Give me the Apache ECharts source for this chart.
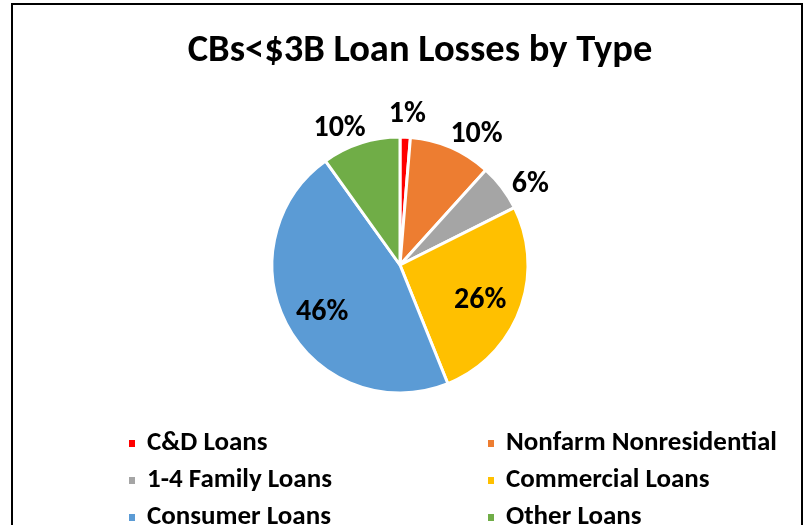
<!DOCTYPE html>
<html>
<head>
<meta charset="utf-8">
<script src="https://cdn.jsdelivr.net/npm/echarts@6/dist/echarts.min.js"></script>
<style>
html,body{margin:0;padding:0;background:#fff;}
#frame{position:absolute;left:11px;top:3px;width:792px;height:560px;border:2px solid #000;box-sizing:border-box;}
#chart{position:absolute;left:0;top:0;width:808px;height:525px;}
</style>
</head>
<body>
<div id="frame"></div>
<div id="chart"></div>
<script>
const titleText = 'CBs<$3B Loan Losses by Type';
const categories = ['C&D Loans', 'Nonfarm Nonresidential', '1-4 Family Loans', 'Commercial Loans', 'Consumer Loans', 'Other Loans'];
const values = [1.3, 10.4, 5.9, 26.3, 46.2, 9.9];
const colors = ['#FF0000', '#ED7D31', '#A5A5A5', '#FFC000', '#5B9BD5', '#70AD47'];
const insideLabels = ['Commercial Loans', 'Consumer Loans'];

const FONT = 'Carlito, "Liberation Sans Narrow", "DejaVu Sans Condensed", "Liberation Sans", sans-serif';
const total = values.reduce((a, b) => a + b, 0);
const pctText = v => Math.round(v / total * 100) + '%';
// small label nudges (px) imitating Excel's best-fit placement
const labelNudge = {
  'C&D Loans': [1, 4],
  'Nonfarm Nonresidential': [15, 12],
  '1-4 Family Loans': [7, 13],
  'Commercial Loans': [-5, 3],
  'Consumer Loans': [2, 4],
  'Other Loans': [-13, 11]
};

const chart = echarts.init(document.getElementById('chart'), null, {renderer: 'canvas'});

const mainData = categories.map((c, i) => ({name: c, value: values[i], itemStyle: {color: colors[i]}}));
const labelStyle = {color: '#000', fontFamily: FONT, fontWeight: 'bold', fontSize: 30};

function helperData(show) {
  return categories.map((c, i) => ({
    name: c, value: values[i],
    itemStyle: {color: 'rgba(0,0,0,0)', borderWidth: 0},
    label: {show: show(c), offset: labelNudge[c] || [0, 0]}
  }));
}

const legendText = {fontFamily: FONT, fontWeight: 'bold', fontSize: 27, lineHeight: 26, color: '#000', padding: [0, 0, 0, 6]};

chart.setOption({
  animation: false,
  backgroundColor: 'transparent',
  title: {
    text: titleText, left: 415, top: 27, textAlign: 'center',
    textStyle: {fontFamily: FONT, fontWeight: 'bold', fontSize: 38.5, color: '#000'}
  },
  legend: [
    {
      data: [categories[0], categories[2], categories[4]],
      orient: 'vertical', left: 122, top: 425, height: 200, itemWidth: 8, itemHeight: 9, itemGap: 10,
      icon: 'rect', selectedMode: false, textStyle: legendText
    },
    {
      data: [categories[1], categories[3], categories[5]],
      orient: 'vertical', left: 481, top: 425, height: 200, itemWidth: 8, itemHeight: 9, itemGap: 10,
      icon: 'rect', selectedMode: false, textStyle: legendText
    }
  ],
  series: [
    {
      type: 'pie', center: [400, 265], radius: [0, 128], startAngle: 90, clockwise: true,
      data: mainData,
      itemStyle: {borderColor: '#fff', borderWidth: 3},
      label: {show: false}, labelLine: {show: false}, silent: true
    },
    {
      type: 'pie', center: [400, 265], radius: [142, 162], startAngle: 90, clockwise: true,
      data: helperData(c => !insideLabels.includes(c)),
      label: Object.assign({position: 'inside', formatter: p => pctText(p.value)}, labelStyle),
      labelLine: {show: false}, silent: true
    },
    {
      type: 'pie', center: [400, 265], radius: [50, 126], startAngle: 90, clockwise: true,
      data: helperData(c => insideLabels.includes(c)),
      label: Object.assign({position: 'inside', formatter: p => pctText(p.value)}, labelStyle),
      labelLine: {show: false}, silent: true
    }
  ]
});
</script>
</body>
</html>
